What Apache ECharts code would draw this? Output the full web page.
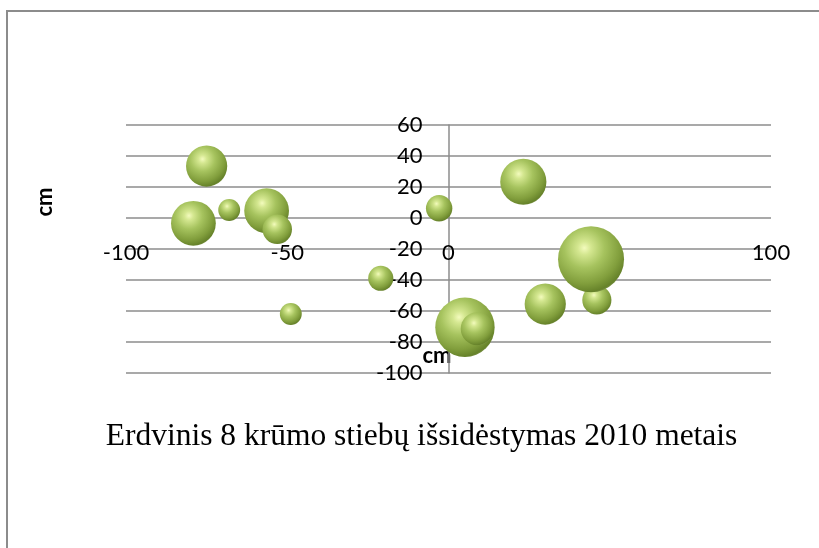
<!DOCTYPE html>
<html>
<head>
<meta charset="utf-8">
<script src="https://cdn.jsdelivr.net/npm/echarts@6/dist/echarts.min.js"></script>
<style>
  html, body { margin: 0; padding: 0; background: #fff; }
  #chart { width: 819px; height: 548px; }
</style>
</head>
<body>
<div id="chart"></div>
<script>
// Stem positions of the shrub (cm from the centre) and relative stem thickness
const stemX    = [-75.0, -79.1, -68.0, -56.4, -53.1, -21.0, -48.9, -2.9, 23.2, 46.0, 44.2, 30.0, 5.1, 8.9];
const stemY    = [33.5, -3.4, 5.2, 4.7, -7.3, -38.9, -61.9, 6.3, 23.4, -52.9, -26.6, -55.5, -70.5, -71.4];
const stemSize = [3.9, 4.6, 1.1, 4.6, 2.0, 1.45, 1.1, 1.6, 4.9, 1.95, 10.0, 3.9, 8.1, 2.5];

const xTicks = { min: -100, max: 100, step: 50 };
const yTicks = { min: -100, max: 60, step: 20 };

const titleText = 'Erdvinis 8 krūmo stiebų išsidėstymas 2010 metais';
const axisUnit = 'cm';

const maxSize = Math.max(...stemSize);
const points = stemX.map((x, i) => [x, stemY[i], stemSize[i]]);

// plot box in pixels; the vertical axis crosses at x = 0, the value labels sit on y = -20
const plot = { left: 126, right: 48, top: 125, bottom: 175, width: 819 - 126 - 48, height: 548 - 125 - 175 };
const yAxisShift = -plot.width * (0 - xTicks.min) / (xTicks.max - xTicks.min);
const xAxisShift = -plot.height * (-20 - yTicks.min) / (yTicks.max - yTicks.min);

const gridColor = '#8c8c8c';
const sphere = {
  type: 'radial', x: 0.4, y: 0.33, r: 0.72,
  colorStops: [
    { offset: 0,    color: '#f3fbbd' },
    { offset: 0.14, color: '#d4e790' },
    { offset: 0.42, color: '#a6c35e' },
    { offset: 0.75, color: '#819e3c' },
    { offset: 0.93, color: '#66822a' },
    { offset: 1,    color: '#87995a' }
  ]
};

const chart = echarts.init(document.getElementById('chart'), null, { renderer: 'canvas' });
chart.setOption({
  backgroundColor: '#ffffff',
  animation: false,
  grid: { left: plot.left, right: plot.right, top: plot.top, bottom: plot.bottom, containLabel: false },
  xAxis: {
    type: 'value',
    min: xTicks.min, max: xTicks.max, interval: xTicks.step,
    position: 'bottom',
    offset: xAxisShift,
    axisLine: { show: false, onZero: false },
    axisTick: { show: false },
    splitLine: { show: false },
    axisLabel: { margin: -7, fontFamily: 'Lato', fontSize: 22, color: '#000' }
  },
  yAxis: {
    type: 'value',
    min: yTicks.min, max: yTicks.max, interval: yTicks.step,
    position: 'left',
    offset: yAxisShift,
    axisLine: { show: true, onZero: false, lineStyle: { color: gridColor, width: 1.5 } },
    axisTick: { show: false },
    splitLine: { show: true, lineStyle: { color: gridColor, width: 1.5 } },
    axisLabel: { margin: 26, fontFamily: 'Lato', fontSize: 22, color: '#000' }
  },
  series: [{
    type: 'scatter',
    data: points,
    symbol: 'circle',
    symbolSize: v => 66 * Math.sqrt(v[2] / maxSize),
    itemStyle: { color: sphere, opacity: 1 },
    emphasis: { disabled: true }
  }],
  graphic: [
    {
      type: 'rect', silent: true, z: -1,
      shape: { x: 7, y: 11, width: 1000, height: 1000 },
      style: { fill: 'none', stroke: '#8c8c8c', lineWidth: 2 }
    },
    {
      type: 'text', x: 45, y: 202, rotation: Math.PI / 2,
      style: { text: axisUnit, fontFamily: 'Lato', fontWeight: 'bold', fontSize: 22, fill: '#000', align: 'center', verticalAlign: 'middle' }
    },
    {
      type: 'text', x: 437, y: 356,
      style: { text: axisUnit, fontFamily: 'Lato', fontWeight: 'bold', fontSize: 22, fill: '#000', align: 'center', verticalAlign: 'middle' }
    },
    {
      type: 'text', x: 421.5, y: 437,
      style: { text: titleText, fontFamily: 'Liberation Serif', fontSize: 31.5, fill: '#000', align: 'center', verticalAlign: 'middle' }
    }
  ]
});
</script>
</body>
</html>
